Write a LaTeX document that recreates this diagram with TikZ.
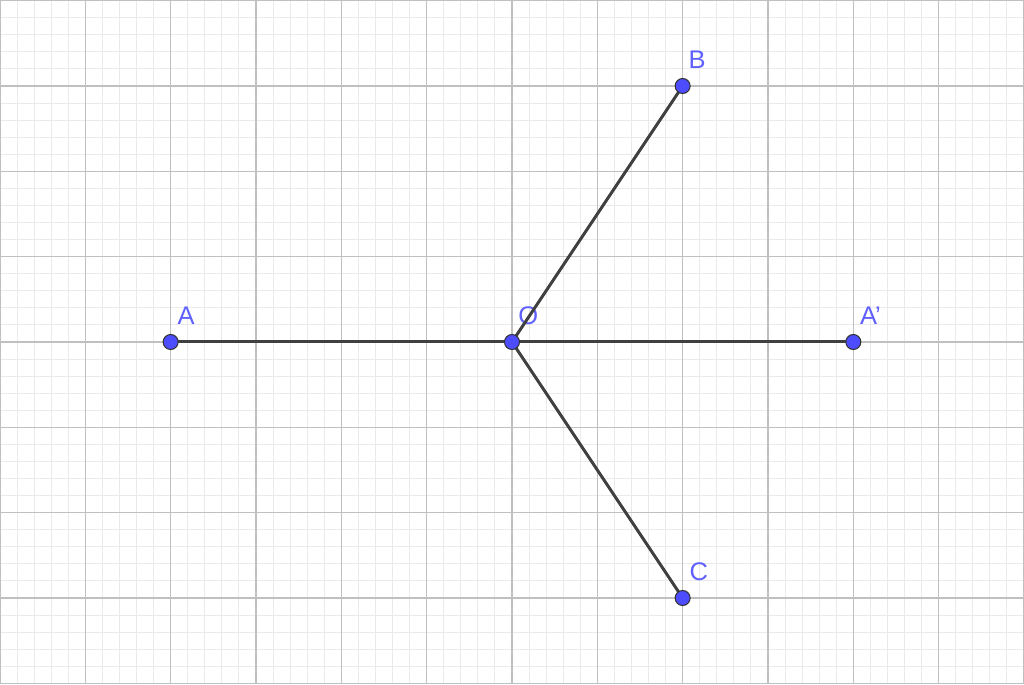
\documentclass[tikz,border=0pt]{standalone}
\usepackage{fontspec}
\setmainfont{Liberation Sans}
\definecolor{ggblue}{RGB}{77,77,255}
\definecolor{gglabel}{RGB}{96,96,255}
\definecolor{ggline}{RGB}{64,64,64}
\definecolor{ggmajor}{RGB}{192,192,192}
\definecolor{ggminor}{RGB}{234,234,234}
\tikzset{
  ggpoint/.style={circle,fill=ggblue,draw=black!80,line width=0.35pt,inner sep=0pt,minimum size=5pt},
  ptlabel/.style={text=gglabel,font=\fontsize{8.5}{10}\selectfont,inner sep=0pt},
  ggseg/.style={ggline,line width=1pt}
}
\begin{document}
\begin{tikzpicture}
  \pgfmathsetmacro\xmax{6}
  \pgfmathsetmacro\ymax{4.008}   % half height of the view

  \useasboundingbox (-\xmax,-\ymax) rectangle (\xmax,\ymax);
  \fill[white] (-\xmax,-\ymax) rectangle (\xmax,\ymax);

% grid
  \draw[ggminor,line width=0.3pt,step=0.2] (-\xmax,-\ymax) grid (\xmax,\ymax);
  \draw[ggmajor,line width=0.5pt,step=1] (-\xmax,-\ymax) grid (\xmax,\ymax);

% points
  \coordinate (A) at (-4,0);
  \coordinate (O) at (0,0);
  \coordinate (A1) at (4,0);
  \coordinate (B) at (2,3);
  \coordinate (C) at (2,-3);

% labels
  \node[ptlabel] (labA) at ([shift={(0.18,0.31)}]A) {A};
  \node[ptlabel] (labO) at ([shift={(0.19,0.31)}]O) {O};
  \node[ptlabel] (labA1) at ([shift={(0.2,0.31)}]A1) {A'};
  \node[ptlabel] (labB) at ([shift={(0.17,0.31)}]B) {B};
  \node[ptlabel] (labC) at ([shift={(0.19,0.31)}]C) {C};

% segments
  \draw[ggseg] (A) -- (O) -- (A1);
  \draw[ggseg] (O) -- (B);
  \draw[ggseg] (O) -- (C);

  \node[ggpoint] at (A) {};
  \node[ggpoint] at (O) {};
  \node[ggpoint] at (A1) {};
  \node[ggpoint] at (B) {};
  \node[ggpoint] at (C) {};

\end{tikzpicture}
\end{document}
